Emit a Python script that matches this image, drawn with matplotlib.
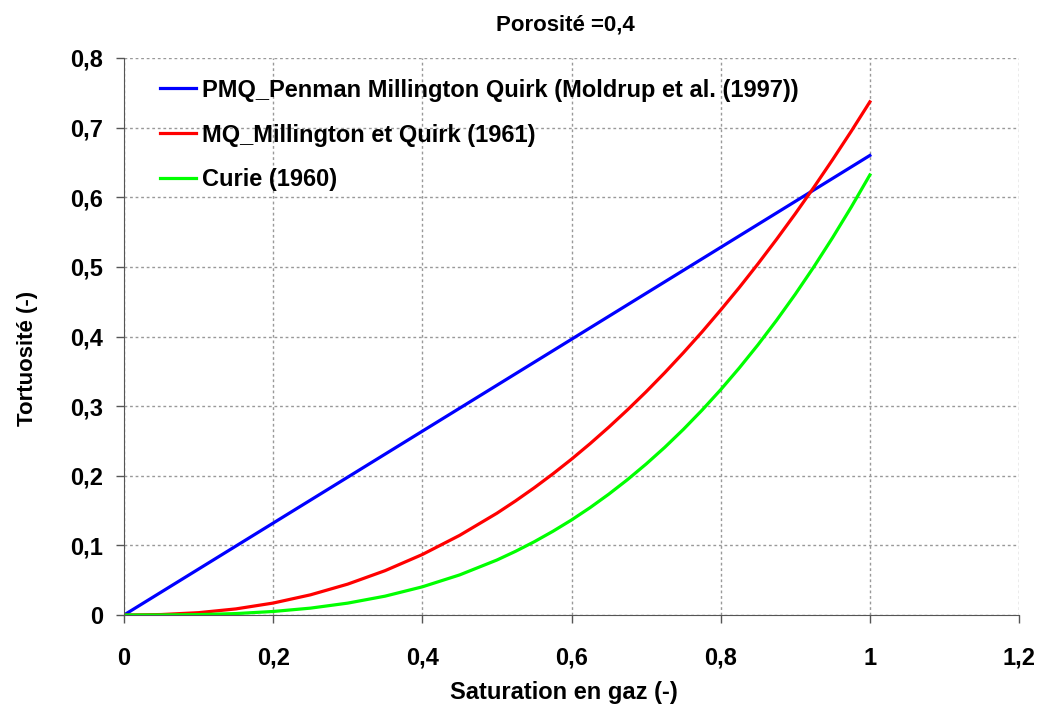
import matplotlib
matplotlib.use("Agg")
import matplotlib.pyplot as plt
from matplotlib.ticker import FuncFormatter

plt.rcParams['font.family'] = ['Liberation Sans', 'DejaVu Sans']
plt.rcParams['font.weight'] = 'bold'

# saturation en gaz (-)
sat = [0, 0.05, 0.1, 0.15, 0.2, 0.25, 0.3, 0.35, 0.4, 0.45, 0.5,
       0.525, 0.55, 0.575, 0.6, 0.625, 0.65, 0.675, 0.7, 0.725, 0.75,
       0.775, 0.8, 0.825, 0.85, 0.875, 0.9, 0.925, 0.95, 0.975, 1.0]
# tortuosite
pmq = [0, 0.033, 0.066, 0.099, 0.132, 0.165, 0.198, 0.231, 0.264, 0.297, 0.33,
       0.3465, 0.363, 0.3795, 0.396, 0.4125, 0.429, 0.4455, 0.462, 0.4785, 0.495,
       0.5115, 0.528, 0.5445, 0.561, 0.5775, 0.594, 0.6105, 0.627, 0.6435, 0.66]
mq = [0, 0.0007, 0.0034, 0.0088, 0.0172, 0.029, 0.0444, 0.0637, 0.0869, 0.1144, 0.1462,
      0.1639, 0.1827, 0.2027, 0.2238, 0.2462, 0.2698, 0.2946, 0.3206, 0.348, 0.3767,
      0.4066, 0.438, 0.4704, 0.5044, 0.5397, 0.5763, 0.6144, 0.6539, 0.6947, 0.737]
curie = [0, 0.0001, 0.0006, 0.0021, 0.0051, 0.0099, 0.0171, 0.0271, 0.0405, 0.0576, 0.079,
         0.0915, 0.1052, 0.1202, 0.1365, 0.1543, 0.1736, 0.1944, 0.2168, 0.2408, 0.2666,
         0.2942, 0.3236, 0.3549, 0.3881, 0.4234, 0.4607, 0.5002, 0.5419, 0.5858, 0.632]

labels = ["PMQ_Penman Millington Quirk (Moldrup et al. (1997))",
          "MQ_Millington et Quirk (1961)",
          "Curie (1960)"]

fig = plt.figure(figsize=(10.39, 7.13), dpi=100)
ax = fig.add_axes([0.1193, 0.1374, 0.8615, 0.7813])

ax.plot(sat, pmq, color='#0000ff', lw=2.3, label=labels[0])
ax.plot(sat, mq, color='#ff0000', lw=2.3, label=labels[1])
ax.plot(sat, curie, color='#00ff00', lw=2.3, label=labels[2])

ax.set_xlim(0, 1.2)
ax.set_ylim(0, 0.8)
ax.set_xticks([0, 0.2, 0.4, 0.6, 0.8, 1.0, 1.2])
ax.set_yticks([0, 0.1, 0.2, 0.3, 0.4, 0.5, 0.6, 0.7, 0.8])

def fr(v, pos):
    s = ('%.1f' % v).replace('.', ',')
    if s.endswith(',0'):
        s = s[:-2]
    return s

ax.xaxis.set_major_formatter(FuncFormatter(fr))
ax.yaxis.set_major_formatter(FuncFormatter(fr))
ax.tick_params(axis='both', labelsize=17, colors='#000000', length=6, width=1, color='#555555')
ax.tick_params(axis='x', pad=17)
ax.tick_params(axis='y', pad=9)

ax.grid(True, color='#999999', linestyle=(0, (2, 2)), linewidth=1)
for s in ['top', 'right']:
    ax.spines[s].set_visible(False)
for s in ['left', 'bottom']:
    ax.spines[s].set_color('#555555')
    ax.spines[s].set_zorder(3)

ax.set_title("Porosité =0,4", fontsize=16, fontweight='bold', pad=20, x=0.493)
ax.set_xlabel("Saturation en gaz (-)", fontsize=17, fontweight='bold', labelpad=8)
ax.xaxis.label.set_x(0.491)
ax.set_ylabel("Tortuosité (-)", fontsize=16, fontweight='bold')
ax.yaxis.set_label_coords(-0.096, 0.461)

ax.legend(loc='upper left', bbox_to_anchor=(0.0302, 0.980), frameon=False, fontsize=17,
          handlelength=1.5, handletextpad=0.25, labelspacing=0.93, borderaxespad=0)

fig.savefig("out.png", dpi=100)
